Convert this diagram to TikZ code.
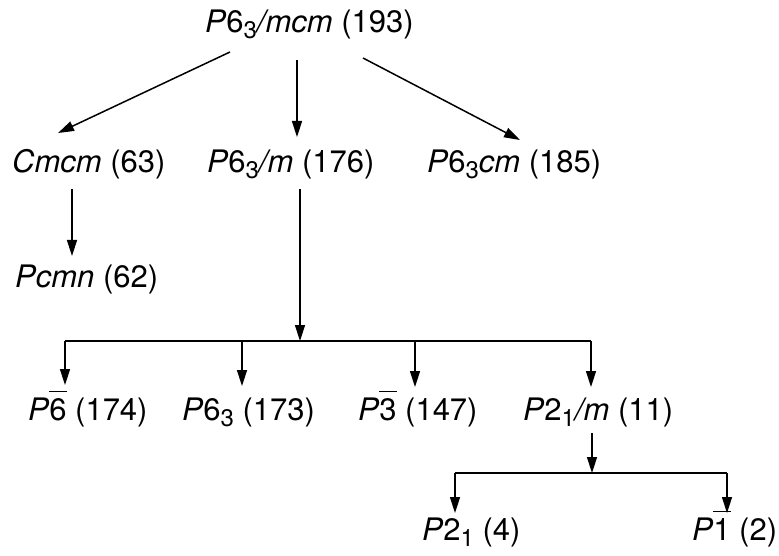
\documentclass[tikz,border=0pt]{standalone}
\usepackage{fontspec}
\setmainfont{TeX Gyre Heros}
\usetikzlibrary{arrows.meta}
\newcommand\lsub[1]{\raisebox{-6pt}{\fontsize{24}{24}\selectfont #1}}
\newcommand\obar[1]{{\setbox0\hbox{#1}\rlap{\raisebox{\dimexpr\ht0+6pt\relax}{\rule{\wd0}{1.4pt}}}\box0}}
\tikzset{
 lab/.style={anchor=base west, inner sep=0pt, font=\fontsize{31}{36}\selectfont},
 arr/.style={line width=1.5pt, -{Triangle[length=16pt,width=10pt]}},
 ln/.style={line width=1.5pt}
}
\begin{document}
\begin{tikzpicture}[x=1pt,y=-1pt]
\useasboundingbox (0,0) rectangle (779,556);
\node[lab] (T) at (205,33) {\textit{P}6\lsub{3}\textit{/mcm} (193)};
\node[lab] (C) at (12,173) {\textit{Cmcm} (63)};
\node[lab] (M) at (207,173) {\textit{P}6\lsub{3}\textit{/m} (176)};
\node[lab] (R) at (427,173) {\textit{P}6\lsub{3}\textit{cm} (185)};
\node[lab] (Pc) at (15,287) {\textit{Pcmn} (62)};
\node[lab] (A1) at (28,420) {\textit{P}\obar{6} (174)};
\node[lab] (A2) at (182,420) {\textit{P}6\lsub{3} (173)};
\node[lab] (A3) at (358,420) {\textit{P}\obar{3} (147)};
\node[lab] (A4) at (523,420) {\textit{P}2\lsub{1}\textit{/m} (11)};
\node[lab] (B1) at (422,540) {\textit{P}2\lsub{1} (4)};
\node[lab] (B2) at (692,540) {\textit{P}\obar{1} (2)};
% top arrows
\draw[arr] ([shift={(25,19)}]T.base west) -- ([shift={(46,-40)}]C.base west);
\draw[arr] ([shift={(92,27)}]T.base west) -- ([shift={(90,-36)}]M.base west);
\draw[arr] ([shift={(158,25)}]T.base west) -- ([shift={(93,-33)}]R.base west);
\draw[arr] ([shift={(60,16)}]C.base west) -- ([shift={(57,-31)}]Pc.base west);
% first bus
\coordinate (J1) at ([shift={(93,168)}]M.base west);
\draw[arr] ([shift={(93,16)}]M.base west) -- (J1);
\coordinate (a1) at ([shift={(37,-35)}]A1.base west);
\coordinate (a2) at ([shift={(60,-34)}]A2.base west);
\coordinate (a3) at ([shift={(57,-33)}]A3.base west);
\coordinate (a4) at ([shift={(68,-33)}]A4.base west);
\draw[ln] (a1 |- J1) -- (a4 |- J1);
\draw[arr] (a1 |- J1) -- (a1);
\draw[arr] (a2 |- J1) -- (a2);
\draw[arr] (a3 |- J1) -- (a3);
\draw[arr] (a4 |- J1) -- (a4);
% second bus
\coordinate (J2) at ([shift={(69,53)}]A4.base west);
\draw[arr] ([shift={(69,13)}]A4.base west) -- (J2);
\coordinate (b1) at ([shift={(33,-27)}]B1.base west);
\coordinate (b2) at ([shift={(35,-27)}]B2.base west);
\draw[ln] (b1 |- J2) -- (b2 |- J2);
\draw[arr] (b1 |- J2) -- (b1);
\draw[arr] (b2 |- J2) -- (b2);
\end{tikzpicture}
\end{document}
